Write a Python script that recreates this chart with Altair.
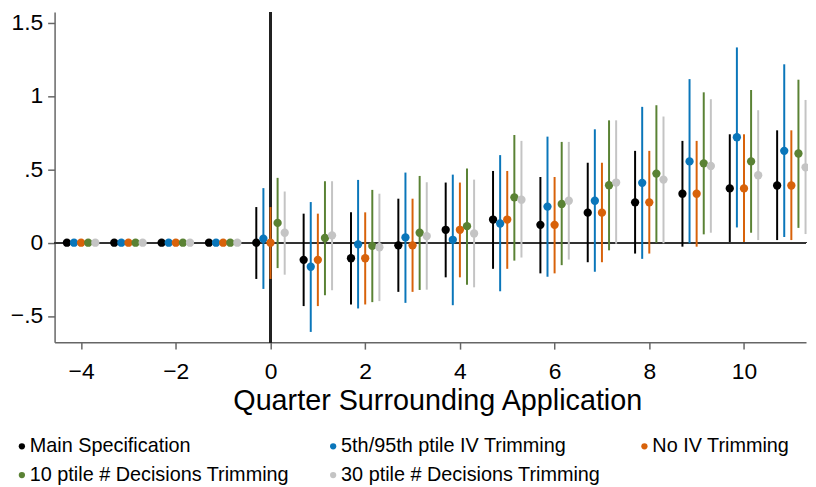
import altair as alt
import pandas as pd

quarters = [-4, -3, -2, -1, 0, 1, 2, 3, 4, 5, 6, 7, 8, 9, 10, 11]

series_names = [
    "Main Specification",
    "5th/95th ptile IV Trimming",
    "No IV Trimming",
    "10 ptile # Decisions Trimming",
    "30 ptile # Decisions Trimming",
]
series_colors = ["#000000", "#0a76ba", "#d8620a", "#5a8234", "#c4c4c4"]

pre = [0, 0, 0, 0]

main_est = pre + [0.000, -0.117, -0.106, -0.018, 0.088, 0.158, 0.122, 0.205, 0.275, 0.334, 0.370, 0.390]
main_lo = pre + [-0.247, -0.432, -0.421, -0.335, -0.236, -0.178, -0.209, -0.133, -0.074, -0.027, 0.005, 0.018]
main_hi = pre + [0.243, 0.198, 0.207, 0.300, 0.410, 0.489, 0.448, 0.545, 0.626, 0.694, 0.739, 0.766]

trim5_est = pre + [0.027, -0.164, -0.011, 0.036, 0.020, 0.131, 0.246, 0.286, 0.408, 0.554, 0.719, 0.626]
trim5_lo = pre + [-0.315, -0.608, -0.448, -0.410, -0.426, -0.331, -0.232, -0.198, -0.110, -0.004, 0.104, 0.039]
trim5_hi = pre + [0.372, 0.277, 0.428, 0.478, 0.464, 0.597, 0.723, 0.773, 0.926, 1.115, 1.331, 1.216]

noiv_est = pre + [0.000, -0.117, -0.106, -0.018, 0.088, 0.158, 0.122, 0.205, 0.275, 0.334, 0.370, 0.390]
noiv_lo = pre + [-0.247, -0.432, -0.421, -0.335, -0.236, -0.178, -0.209, -0.133, -0.074, -0.027, 0.005, 0.018]
noiv_hi = pre + [0.243, 0.198, 0.207, 0.300, 0.410, 0.489, 0.448, 0.545, 0.626, 0.694, 0.739, 0.766]

dec10_est = pre + [0.135, 0.032, -0.022, 0.068, 0.113, 0.309, 0.264, 0.392, 0.471, 0.541, 0.554, 0.608]
dec10_lo = pre + [-0.173, -0.358, -0.405, -0.322, -0.286, -0.122, -0.153, -0.052, 0.000, 0.057, 0.068, 0.101]
dec10_hi = pre + [0.442, 0.419, 0.360, 0.455, 0.505, 0.734, 0.687, 0.834, 0.937, 1.025, 1.041, 1.111]

dec30_est = pre + [0.068, 0.050, -0.031, 0.045, 0.063, 0.293, 0.286, 0.410, 0.430, 0.523, 0.460, 0.514]
dec30_lo = pre + [-0.218, -0.324, -0.398, -0.320, -0.304, -0.101, -0.115, -0.007, -0.004, 0.068, 0.018, 0.059]
dec30_hi = pre + [0.349, 0.419, 0.334, 0.412, 0.430, 0.694, 0.687, 0.834, 0.860, 0.978, 0.903, 0.973]

all_series = [
    (main_est, main_lo, main_hi),
    (trim5_est, trim5_lo, trim5_hi),
    (noiv_est, noiv_lo, noiv_hi),
    (dec10_est, dec10_lo, dec10_hi),
    (dec30_est, dec30_lo, dec30_hi),
]
# horizontal dodge of each series around its quarter
dodge = [-0.3, -0.15, 0.0, 0.15, 0.3]

rows = []
for name, (est, lo, hi), off in zip(series_names, all_series, dodge):
    for q, e, l, h in zip(quarters, est, lo, hi):
        rows.append({"series": name, "quarter": q, "xpos": q + off,
                     "est": e, "lo": l, "hi": h})
df = pd.DataFrame(rows)

FONT = "Liberation Sans"

xscale = alt.Scale(domain=[-4.56, 11.31], nice=False, zero=False)
yscale = alt.Scale(domain=[-0.678, 1.572], nice=False, zero=False)

legend = alt.Legend(
    title=None, orient="none", legendX=-43, legendY=428, columns=3,
    direction="horizontal",
    columnPadding=34, rowPadding=9, symbolType="circle", symbolSize=40,
    symbolStrokeWidth=0, labelFontSize=20, labelFont=FONT, labelLimit=400,
    labelColor="#000000", labelOffset={"expr": "-2"}, padding=0,
)
fill_enc = alt.Fill(
    "series:N",
    scale=alt.Scale(domain=series_names, range=series_colors),
    legend=legend,
)
stroke_enc = alt.Stroke(
    "series:N",
    scale=alt.Scale(domain=series_names, range=series_colors),
    legend=legend,
)

xaxis = alt.Axis(
    values=[-4, -2, 0, 2, 4, 6, 8, 10], title="Quarter Surrounding Application",
    titleFontSize=29, titleFont=FONT, titleFontWeight="normal", titleColor="#000000",
    titleX=386, titleY=68, titleAlign="center", titleBaseline="alphabetic",
    labelFontSize=23, labelFont=FONT, labelColor="#000000", labelPadding=12,
    tickSize=7, grid=False,
)
yaxis = alt.Axis(
    values=[-0.5, 0, 0.5, 1, 1.5], title=None,
    labelExpr="datum.value == 0 ? '0' : replace(format(datum.value, ''), '0.', '.')",
    labelFontSize=23, labelFont=FONT, labelColor="#000000", labelPadding=5,
    tickSize=7, grid=False,
)

hline = alt.Chart(df).mark_rule(color="#333333", strokeWidth=1.5).encode(
    y=alt.datum(0, scale=yscale)
)
vline = alt.Chart(df).mark_rule(color="#222222", strokeWidth=1.5).encode(
    x=alt.datum(0, scale=xscale)
)

bars = alt.Chart(df).mark_rule(strokeWidth=2, clip=False).encode(
    x=alt.X("xpos:Q", scale=xscale, axis=xaxis),
    y=alt.Y("lo:Q", scale=yscale, axis=yaxis),
    y2="hi:Q",
    stroke=stroke_enc,
)

pts = alt.Chart(df).mark_circle(size=70, opacity=1, clip=False).encode(
    x=alt.X("xpos:Q", scale=xscale, axis=xaxis),
    y=alt.Y("est:Q", scale=yscale, axis=yaxis),
    fill=fill_enc,
)

chart = alt.layer(hline, vline, bars, pts).properties(
    width=758, height=333,
    autosize=alt.AutoSizeParams(type="none"),
    padding={"left": 47, "top": 2, "right": 2, "bottom": 146},
    background="white",
).configure_view(stroke=None).configure_axis(
    domainColor="#666666", domainWidth=1.5, tickColor="#666666", tickWidth=1.5,
)

chart.save("out.html", embed_options={"renderer": "svg", "actions": False})
